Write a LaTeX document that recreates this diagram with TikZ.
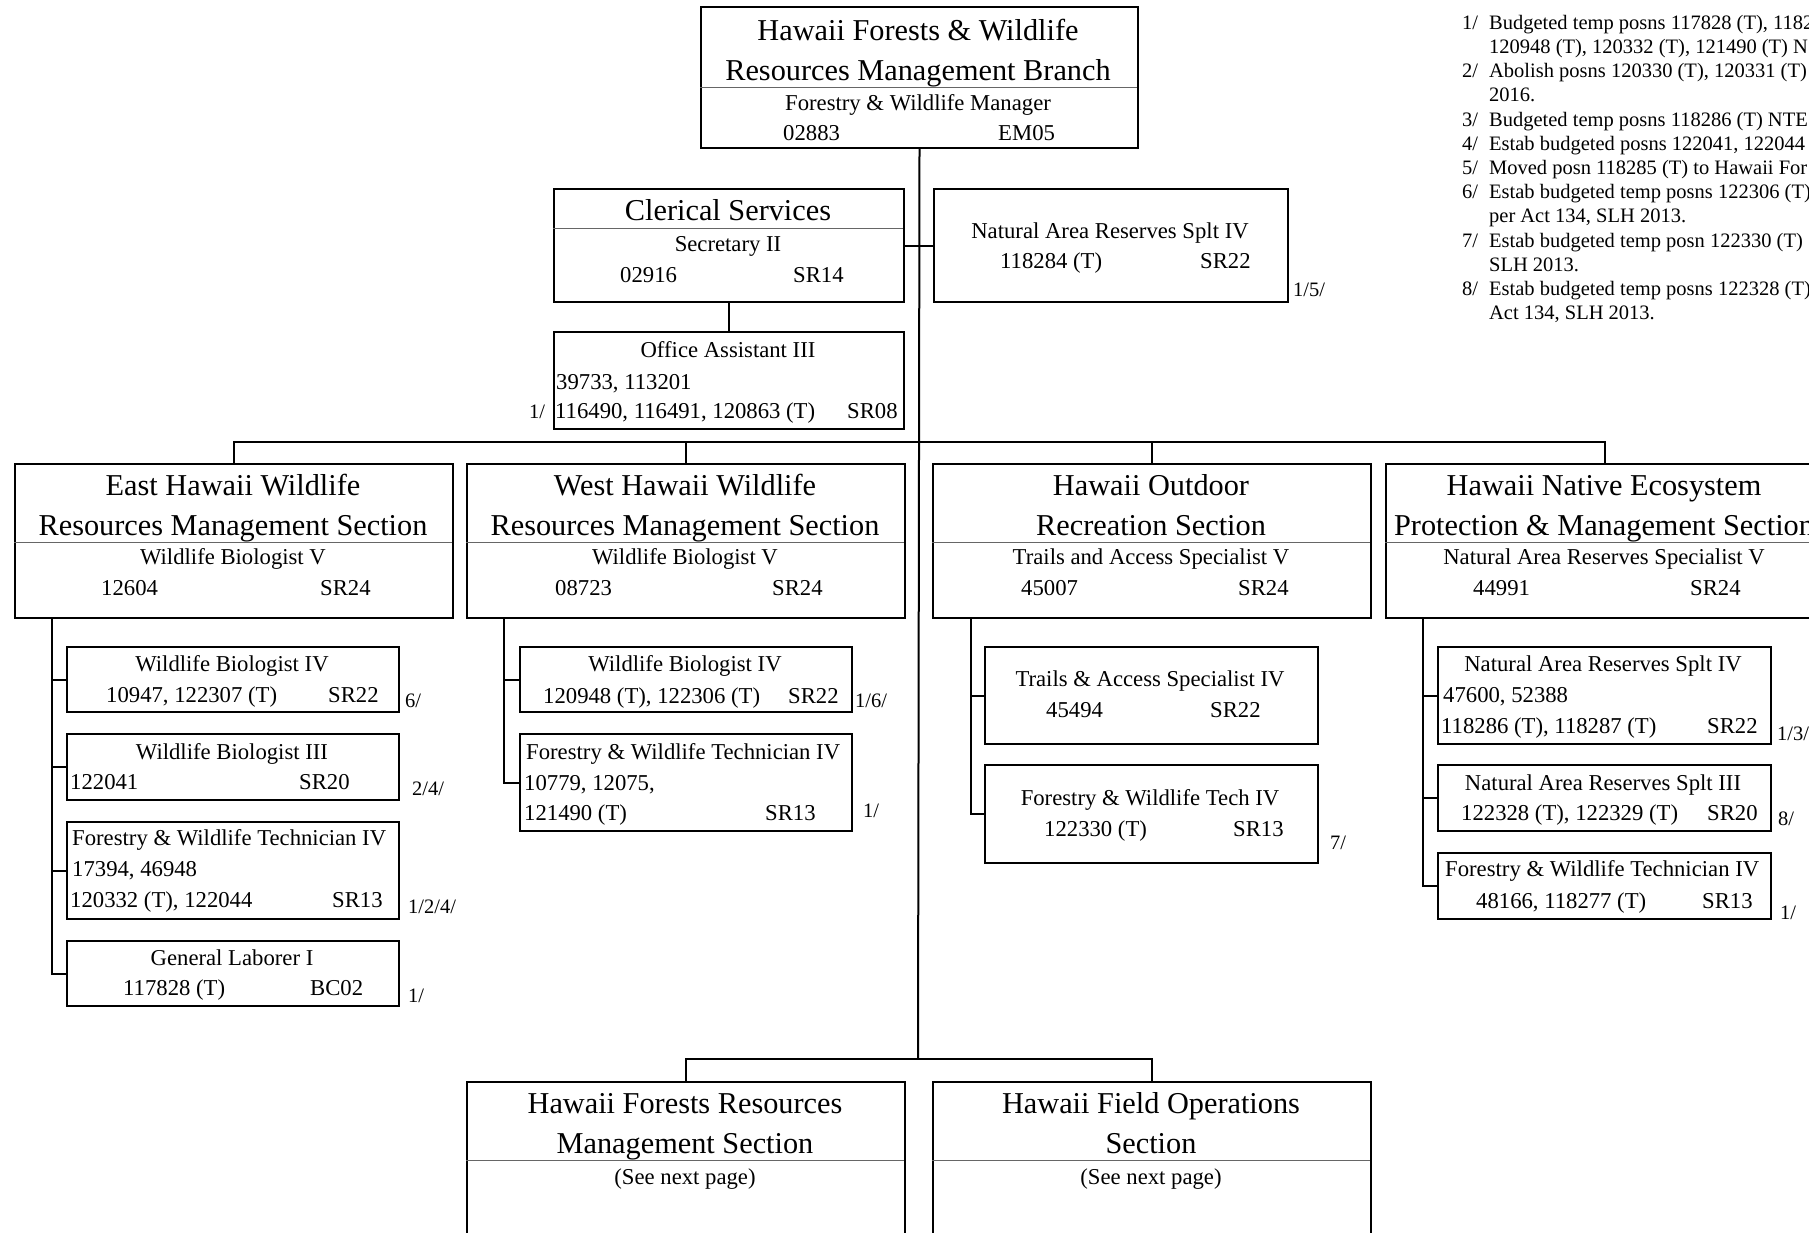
\documentclass[tikz,border=0pt]{standalone}
\usepackage{fontspec}
\setmainfont{Liberation Serif}
\newcommand{\headfont}{\fontsize{30.3pt}{40pt}\selectfont}
\newcommand{\rolefont}{\fontsize{22.7pt}{30pt}\selectfont}
\newcommand{\markfont}{\fontsize{20.5pt}{24.2pt}\selectfont}
\begin{document}
\begin{tikzpicture}[x=1pt,y=-1pt]
\tikzstyle{postbox} = [rectangle, draw=black, line width=2pt, anchor=north west, inner sep=0pt]
\tikzstyle{headline} = [font=\headfont, anchor=base, inner sep=0pt]
\tikzstyle{roleline} = [font=\rolefont, anchor=base, inner sep=0pt]
\tikzstyle{numline} = [font=\rolefont, anchor=base west, inner sep=0pt]
\tikzstyle{footmark} = [font=\markfont, anchor=base west, inner sep=0pt]
\tikzstyle{wire} = [line width=2pt]
\tikzstyle{divider} = [line width=1pt, black!60]

\useasboundingbox (0,0) rectangle (1809,1232);
\clip (0,0) rectangle (1809,1232);

% branch and staff
\node (Branch) [postbox, minimum width=437, minimum height=141] at (700,6) {};
\node (Clerical) [postbox, minimum width=350, minimum height=113] at (553,188) {};
\node (Office) [postbox, minimum width=350, minimum height=97] at (553,331) {};
\node (NarTop) [postbox, minimum width=354, minimum height=113] at (933,188) {};

% sections
\node (EastSection) [postbox, minimum width=438, minimum height=154] at (14,463) {};
\node (WestSection) [postbox, minimum width=438, minimum height=154] at (466,463) {};
\node (OutdoorSection) [postbox, minimum width=438, minimum height=154] at (932,463) {};
\node (NativeSection) [postbox, minimum width=438, minimum height=154] at (1385,463) {};
\node (ForestsSection) [postbox, minimum width=438, minimum height=200] at (466,1081) {};
\node (FieldSection) [postbox, minimum width=438, minimum height=200] at (932,1081) {};

% positions under the sections
\node (EastBioFour) [postbox, minimum width=332, minimum height=65] at (66,646) {};
\node (EastBioThree) [postbox, minimum width=332, minimum height=66] at (66,733) {};
\node (EastTechFour) [postbox, minimum width=332, minimum height=97] at (66,821) {};
\node (EastLaborer) [postbox, minimum width=332, minimum height=65] at (66,940) {};
\node (WestBioFour) [postbox, minimum width=332, minimum height=65] at (519,646) {};
\node (WestTechFour) [postbox, minimum width=332, minimum height=97] at (519,733) {};
\node (OutdoorTrailsFour) [postbox, minimum width=333, minimum height=97] at (984,646) {};
\node (OutdoorTechFour) [postbox, minimum width=333, minimum height=98] at (984,764) {};
\node (NativeSpltFour) [postbox, minimum width=333, minimum height=97] at (1437,646) {};
\node (NativeSpltThree) [postbox, minimum width=333, minimum height=66] at (1437,764) {};
\node (NativeTechFour) [postbox, minimum width=333, minimum height=66] at (1437,852) {};

% dividers
\draw [divider] (700,87) -- (1137,87);
\draw [divider] (553,228) -- (903,228);
\draw [divider] (14,542) -- (452,542);
\draw [divider] (466,542) -- (904,542);
\draw [divider] (932,542) -- (1370,542);
\draw [divider] (1385,542) -- (1823,542);
\draw [divider] (466,1160) -- (904,1160);
\draw [divider] (932,1160) -- (1370,1160);

% connectors
\coordinate (SectionRail) at (918,442);
\coordinate (LowerFork) at (918,1059);
\coordinate (EastTrunk) at (52,617);
\coordinate (WestTrunk) at (504,617);
\coordinate (OutdoorTrunk) at (971,617);
\coordinate (NativeTrunk) at (1423,617);

\draw [wire] (Branch.south) -- (LowerFork);
\draw [wire] (Clerical.east) -- (NarTop.west);
\draw [wire] (Clerical.south) -- (Office.north);
\draw [wire] (EastSection.north) |- (SectionRail) -| (NativeSection.north);
\draw [wire] (WestSection.north) -- (WestSection.north |- SectionRail);
\draw [wire] (OutdoorSection.north) -- (OutdoorSection.north |- SectionRail);
\draw [wire] (ForestsSection.north) |- (LowerFork) -| (FieldSection.north);
\draw [wire] (EastTrunk) |- (EastBioFour.west);
\draw [wire] (EastTrunk) |- (EastBioThree.west);
\draw [wire] (EastTrunk) |- (EastTechFour.west);
\draw [wire] (EastTrunk) |- (EastLaborer.west);
\draw [wire] (WestTrunk) |- (WestBioFour.west);
\draw [wire] (WestTrunk) |- (WestTechFour.west);
\draw [wire] (OutdoorTrunk) |- (OutdoorTrailsFour.west);
\draw [wire] (OutdoorTrunk) |- (OutdoorTechFour.west);
\draw [wire] (NativeTrunk) |- (NativeSpltFour.west);
\draw [wire] (NativeTrunk) |- (NativeSpltThree.west);
\draw [wire] (NativeTrunk) |- (NativeTechFour.west);

% texts: branch and staff
\node (BranchHeadA) [headline] at (918,40) {Hawaii Forests \& Wildlife};
\node (BranchHeadB) [headline] at (918,80) {Resources Management Branch};
\node (BranchRole) [roleline] at (918,110.5) {Forestry \& Wildlife Manager};
\node (BranchPosn) [numline] at (783,140.5) {02883};
\node (BranchGrade) [numline] at (998,140.5) {EM05};

\node (ClericalHead) [headline] at (728,220) {Clerical Services};
\node (ClericalRole) [roleline] at (728,251.5) {Secretary II};
\node (ClericalPosn) [numline] at (620,282.5) {02916};
\node (ClericalGrade) [numline] at (793,282.5) {SR14};

\node (OfficeRole) [roleline] at (728,357.5) {Office Assistant III};
\node (OfficePosnA) [numline] at (556,389.5) {39733, 113201};
\node (OfficePosnB) [numline] at (555,418.5) {116490, 116491, 120863 (T)};
\node (OfficeGrade) [numline] at (847,418.5) {SR08};
\node (OfficeMark) [footmark] at (529,418.5) {1/};

\node (NarTopRole) [roleline] at (1110,238.5) {Natural Area Reserves Splt IV};
\node (NarTopPosn) [numline] at (1000,268.5) {118284 (T)};
\node (NarTopGrade) [numline] at (1200,268.5) {SR22};
\node (NarTopMark) [footmark] at (1293,296) {1/5/};

% texts: sections
\node (EastHeadA) [headline] at (233,495) {East Hawaii Wildlife};
\node (EastHeadB) [headline] at (233,535) {Resources Management Section};
\node (EastRole) [roleline] at (233,564.5) {Wildlife Biologist V};
\node (EastPosn) [numline] at (101,595.5) {12604};
\node (EastGrade) [numline] at (320,595.5) {SR24};

\node (WestHeadA) [headline] at (685,495) {West Hawaii Wildlife};
\node (WestHeadB) [headline] at (685,535) {Resources Management Section};
\node (WestRole) [roleline] at (685,564.5) {Wildlife Biologist V};
\node (WestPosn) [numline] at (555,595.5) {08723};
\node (WestGrade) [numline] at (772,595.5) {SR24};

\node (OutdoorHeadA) [headline] at (1151,495) {Hawaii Outdoor};
\node (OutdoorHeadB) [headline] at (1151,535) {Recreation Section};
\node (OutdoorRole) [roleline] at (1151,564.5) {Trails and Access Specialist V};
\node (OutdoorPosn) [numline] at (1021,595.5) {45007};
\node (OutdoorGrade) [numline] at (1238,595.5) {SR24};

\node (NativeHeadA) [headline] at (1604,495) {Hawaii Native Ecosystem};
\node (NativeHeadB) [headline] at (1604,535) {Protection \& Management Section};
\node (NativeRole) [roleline] at (1604,564.5) {Natural Area Reserves Specialist V};
\node (NativePosn) [numline] at (1473,595.5) {44991};
\node (NativeGrade) [numline] at (1690,595.5) {SR24};

\node (ForestsHeadA) [headline] at (685,1113) {Hawaii Forests Resources};
\node (ForestsHeadB) [headline] at (685,1153) {Management Section};
\node (ForestsRole) [roleline] at (685,1184.5) {(See next page)};

\node (FieldHeadA) [headline] at (1151,1113) {Hawaii Field Operations};
\node (FieldHeadB) [headline] at (1151,1153) {Section};
\node (FieldRole) [roleline] at (1151,1184.5) {(See next page)};

% texts: east positions
\node (EastBioFourRole) [roleline] at (232,671.5) {Wildlife Biologist IV};
\node (EastBioFourPosn) [numline] at (106,702.5) {10947, 122307 (T)};
\node (EastBioFourGrade) [numline] at (328,702.5) {SR22};
\node (EastBioFourMark) [footmark] at (405,707) {6/};

\node (EastBioThreeRole) [roleline] at (232,759.5) {Wildlife Biologist III};
\node (EastBioThreePosn) [numline] at (70,789.5) {122041};
\node (EastBioThreeGrade) [numline] at (299,789.5) {SR20};
\node (EastBioThreeMark) [footmark] at (412,795.5) {2/4/};

\node (EastTechFourRole) [numline] at (72,845.5) {Forestry \& Wildlife Technician IV};
\node (EastTechFourPosnA) [numline] at (72,876.5) {17394, 46948};
\node (EastTechFourPosnB) [numline] at (70,907.5) {120332 (T), 122044};
\node (EastTechFourGrade) [numline] at (332,907.5) {SR13};
\node (EastTechFourMark) [footmark] at (408,913.5) {1/2/4/};

\node (EastLaborerRole) [roleline] at (232,965.5) {General Laborer I};
\node (EastLaborerPosn) [numline] at (123,995.5) {117828 (T)};
\node (EastLaborerGrade) [numline] at (310,995.5) {BC02};
\node (EastLaborerMark) [footmark] at (408,1002) {1/};

% texts: west positions
\node (WestBioFourRole) [roleline] at (685,671.5) {Wildlife Biologist IV};
\node (WestBioFourPosn) [numline] at (543,703.5) {120948 (T), 122306 (T)};
\node (WestBioFourGrade) [numline] at (788,703.5) {SR22};
\node (WestBioFourMark) [footmark] at (855,707) {1/6/};

\node (WestTechFourRole) [numline] at (526,759.5) {Forestry \& Wildlife Technician IV};
\node (WestTechFourPosnA) [numline] at (524,790.5) {10779, 12075,};
\node (WestTechFourPosnB) [numline] at (524,820.5) {121490 (T)};
\node (WestTechFourGrade) [numline] at (765,820.5) {SR13};
\node (WestTechFourMark) [footmark] at (863,817) {1/};

% texts: outdoor positions
\node (OutdoorTrailsFourRole) [roleline] at (1150,686.5) {Trails \& Access Specialist IV};
\node (OutdoorTrailsFourPosn) [numline] at (1046,717.5) {45494};
\node (OutdoorTrailsFourGrade) [numline] at (1210,717.5) {SR22};

\node (OutdoorTechFourRole) [roleline] at (1150,805.5) {Forestry \& Wildlife Tech IV};
\node (OutdoorTechFourPosn) [numline] at (1044,836.5) {122330 (T)};
\node (OutdoorTechFourGrade) [numline] at (1233,836.5) {SR13};
\node (OutdoorTechFourMark) [footmark] at (1330,849) {7/};

% texts: native positions
\node (NativeSpltFourRole) [roleline] at (1603,671.5) {Natural Area Reserves Splt IV};
\node (NativeSpltFourPosnA) [numline] at (1443,702.5) {47600, 52388};
\node (NativeSpltFourPosnB) [numline] at (1441,733.5) {118286 (T), 118287 (T)};
\node (NativeSpltFourGrade) [numline] at (1707,733.5) {SR22};
\node (NativeSpltFourMark) [footmark] at (1777,740) {1/3/};

\node (NativeSpltThreeRole) [roleline] at (1603,790.5) {Natural Area Reserves Splt III};
\node (NativeSpltThreePosn) [numline] at (1461,820.5) {122328 (T), 122329 (T)};
\node (NativeSpltThreeGrade) [numline] at (1707,820.5) {SR20};
\node (NativeSpltThreeMark) [footmark] at (1778,825) {8/};

\node (NativeTechFourRole) [numline] at (1445,876.5) {Forestry \& Wildlife Technician IV};
\node (NativeTechFourPosn) [numline] at (1476,908.5) {48166, 118277 (T)};
\node (NativeTechFourGrade) [numline] at (1702,908.5) {SR13};
\node (NativeTechFourMark) [footmark] at (1780,919) {1/};

% footnotes
\node (Notes) [font=\markfont, anchor=north west, inner sep=0pt] at (1462,12.1) {%
\begin{tabular}{@{}l@{\hspace{11pt}}l@{}}
1/ & Budgeted temp posns 117828 (T), 1182\\
   & 120948 (T), 120332 (T), 121490 (T) N\\
2/ & Abolish posns 120330 (T), 120331 (T)\\
   & 2016.\\
3/ & Budgeted temp posns 118286 (T) NTE\\
4/ & Estab budgeted posns 122041, 122044\\
5/ & Moved posn 118285 (T) to Hawaii For\\
6/ & Estab budgeted temp posns 122306 (T)\\
   & per Act 134, SLH 2013.\\
7/ & Estab budgeted temp posn 122330 (T)\\
   & SLH 2013.\\
8/ & Estab budgeted temp posns 122328 (T)\\
   & Act 134, SLH 2013.
\end{tabular}};

\end{tikzpicture}
\end{document}
